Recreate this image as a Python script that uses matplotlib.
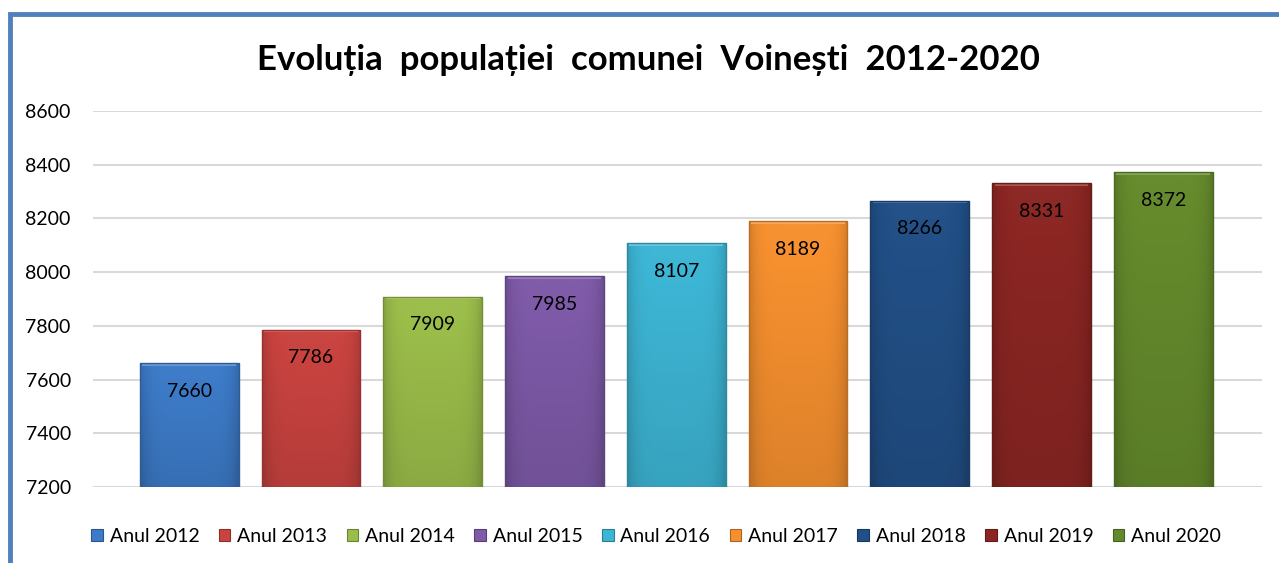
import matplotlib
matplotlib.use('Agg')
import matplotlib.pyplot as plt
import matplotlib.colors as mcolors
from matplotlib.patches import Rectangle
import numpy as np

plt.rcParams['font.family'] = ['Lato', 'DejaVu Sans']

# data
years = ['Anul 2012', 'Anul 2013', 'Anul 2014', 'Anul 2015', 'Anul 2016',
         'Anul 2017', 'Anul 2018', 'Anul 2019', 'Anul 2020']
population = [7660, 7786, 7909, 7985, 8107, 8189, 8266, 8331, 8372]
bar_colors = ['#3d7bc8', '#c94340', '#9bbd4a', '#7e5aa8', '#3db5d4',
              '#f6902f', '#214f86', '#8b2623', '#648a2c']
title = 'Evoluția  populației  comunei  Voinești  2012-2020'


def shade(c, f):
    r, g, b = mcolors.to_rgb(c)
    if f >= 0:
        return (r + (1 - r) * f, g + (1 - g) * f, b + (1 - b) * f)
    return (r * (1 + f), g * (1 + f), b * (1 + f))


fig = plt.figure(figsize=(12.79, 5.63), dpi=100)
ax = fig.add_axes([0.0727, 0.135, 0.9140, 0.668])

x = np.arange(len(years))
width = 0.81
bars = ax.bar(x, population, width=width, color=bar_colors, edgecolor='none',
              zorder=3, label='_nolegend_')

# gradient fill with a light bevel at the top, clipped to every bar
ny = 60
for b, c in zip(bars, bar_colors):
    x0, y0 = b.get_x(), 7200
    x1, y1 = b.get_x() + b.get_width(), b.get_height()
    t = np.linspace(0, 1, ny)[:, None]      # 0 = bottom, 1 = top
    s = np.linspace(-1, 1, 40)[None, :]
    base = np.array(mcolors.to_rgb(c))
    k = 0.12 * t - 0.10 - 0.14 * np.abs(s) ** 6
    img = np.clip(base[None, None, :] * (1 + np.minimum(k, 0)[..., None])
                  + (1 - base[None, None, :]) * np.maximum(k, 0)[..., None], 0, 1)
    im = ax.imshow(img, extent=[x0, x1, y0, y1], origin='lower',
                   aspect='auto', zorder=4, interpolation='bilinear')
    im.set_clip_path(b)
    # top bevel strip
    top = 9
    ax.add_patch(Rectangle((x0 + 0.02, y1 - top), x1 - x0 - 0.04, top,
                           facecolor=shade(c, 0.22), edgecolor='none',
                           zorder=5))
    ax.add_patch(Rectangle((x0, y0), x1 - x0, y1 - y0, facecolor='none',
                           edgecolor=shade(c, -0.25), lw=1.0, zorder=6))

for xi, v in zip(x, population):
    ax.annotate(str(v), (xi, v), xytext=(0, -28), textcoords='offset pixels',
                ha='center', va='center', fontsize=14, color='black', zorder=7)

ax.set_xlim(-0.79, 8.81)
ax.set_ylim(7200, 8600)
ax.set_yticks(np.arange(7200, 8601, 200))
ax.set_xticks([])
ax.yaxis.grid(True, color='#d9d9d9', lw=1.5, zorder=0)
ax.tick_params(axis='y', length=0, pad=16, labelsize=14)
for sp in ax.spines.values():
    sp.set_visible(False)

fig.text(0.507, 0.893, title, ha='center', va='center', fontsize=25,
         fontweight='bold')

handles = [Rectangle((0, 0), 1, 1, facecolor=c, edgecolor=shade(c, -0.3), lw=0.8)
           for c in bar_colors]
fig.legend(handles, years, loc='center', bbox_to_anchor=(0.513, 0.047),
           ncol=9, frameon=False, fontsize=14, handlelength=0.6,
           handleheight=0.6, handletextpad=0.35, columnspacing=1.0)

# blue frame of the chart
fig.patches.append(Rectangle((10 / 1279, -0.2), 1.2, 1 - 14 / 563 + 0.2,
                             transform=fig.transFigure, facecolor='none',
                             edgecolor='#4f81bd', lw=3.5, zorder=10))

fig.savefig('out.png', dpi=100)
